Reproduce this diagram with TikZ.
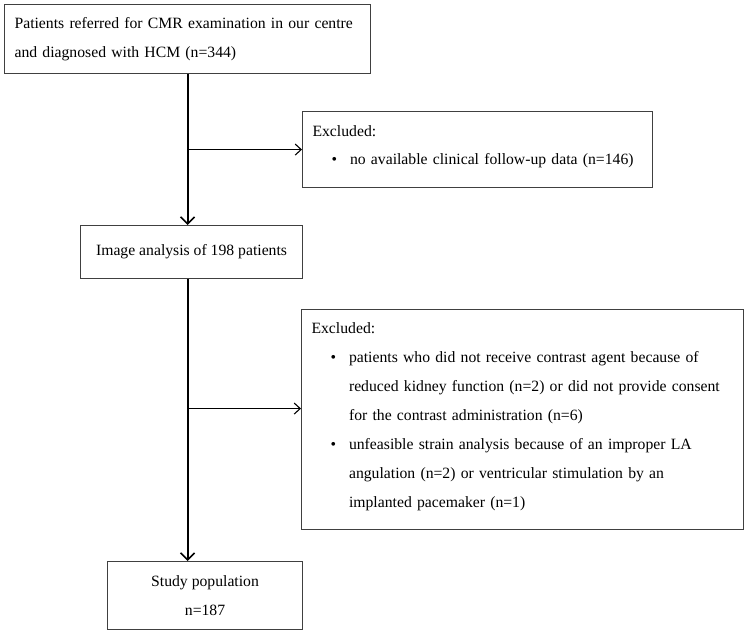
\documentclass[tikz,border=0pt]{standalone}
\usepackage{fontspec}
\setmainfont{Liberation Serif}
\usepackage{tikz}
\usetikzlibrary{positioning,arrows.meta}
\tikzstyle{box} = [rectangle, draw=black!75, line width=1.1pt, inner xsep=10pt, inner ysep=0pt, anchor=north west, font=\fontsize{15.7}{29}\selectfont]
\tikzstyle{leftbox} = [box, align=left]
\tikzstyle{midbox} = [box, align=center]
\tikzstyle{mainline} = [draw, line width=2pt, -{Straight Barb[length=7pt,width=14pt,line width=1.6pt]}]
\tikzstyle{sideline} = [draw, line width=1.1pt, -{Straight Barb[length=6pt,width=11pt]}]
\newcommand{\exlist}[1]{\begin{tabular}[t]{@{\hspace{19pt}}l@{\hspace{13pt}}l@{}}#1\end{tabular}}

\begin{document}
\begin{tikzpicture}[x=1pt, y=1pt]
				\useasboundingbox (0,0) rectangle (749,-633);
				% Place nodes
				\node [leftbox, minimum width=366pt, minimum height=69pt, text width=346pt] (refer) at (4,-4) {\rule{0pt}{6pt}Patients referred for CMR examination in our centre\\and diagnosed with HCM (n=344)};
				\node [leftbox, minimum width=350pt, minimum height=76pt, text width=330pt] (excl1) at (302,-111) {Excluded:\\[-1pt]\exlist{\textbullet & no available clinical follow-up data (n=146)}};
				\node [midbox, minimum width=222pt, minimum height=53pt] (image) at (80,-225) {Image analysis of 198 patients};
				\node [leftbox, minimum width=442pt, minimum height=220pt, text width=422pt] (excl2) at (301,-309) {Excluded:\\\exlist{\textbullet & patients who did not receive contrast agent because of\\
						& reduced kidney function (n=2) or did not provide consent\\
						& for the contrast administration (n=6)\\
						\textbullet & unfeasible strain analysis because of an improper LA\\
						& angulation (n=2) or ventricular stimulation by an\\
						& implanted pacemaker (n=1)}};
				\node [midbox, minimum width=195pt, minimum height=68pt] (study) at (107,-561) {Study population\\n=187};
				\coordinate (split1) at (refer.south |- excl1.west);
				\coordinate (split2) at ([yshift=11pt]refer.south |- excl2.west);
				\path [mainline] (refer.south) -- (refer.south |- image.north);
				\path [mainline] (refer.south |- image.south) -- (refer.south |- study.north);
				\path [sideline] (split1) -- (split1 -| excl1.west);
				\path [sideline] (split2) -- (split2 -| excl2.west);
				\end{tikzpicture}
\end{document}
